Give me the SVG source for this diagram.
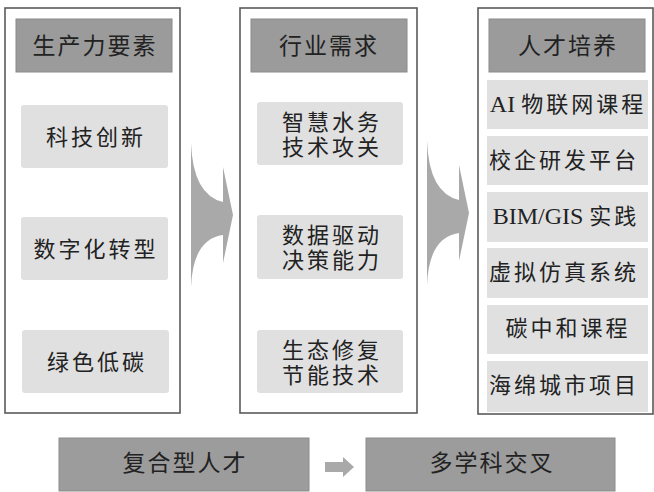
<svg xmlns="http://www.w3.org/2000/svg" width="654" height="492" viewBox="0 0 654 492">
<defs>
<style>
.panel{fill:#ffffff;stroke:#5a5a5a;stroke-width:1.6}
.head{fill:#9b9b9b;stroke:#8a8a8a;stroke-width:1}
.item{fill:#e0e0e1;stroke:none}
.bot{fill:#9c9c9c;stroke:#8c8c8c;stroke-width:1}
.chev{fill:#a9a9a9}
text{font-family:"Liberation Serif","Noto Sans CJK SC",serif;fill:#222;text-anchor:middle;dominant-baseline:central}
.ht{font-size:23px;letter-spacing:2px}
.it{font-size:22px;letter-spacing:3px}
.it3{font-size:22px;letter-spacing:3px}
.lat{font-size:24px;letter-spacing:0}
.bt{font-size:23px;letter-spacing:2px}
</style>
<path id="chevron" d="M0,0 Q2,52 32,59 L32,24 L42,72 L32,120 L32,92 Q2,96 0,144 Z"/>
</defs>
<rect width="654" height="492" fill="#ffffff"/>

<g id="panel-factors">
<rect class="panel" x="5" y="8" width="175" height="405"/>
<rect class="head" x="16" y="19" width="156" height="53"/>
<text class="ht" x="95" y="46">生产力要素</text>
</g>
<g id="node-tech">
<rect class="item" x="21" y="105" width="147" height="63" rx="3"/>
<text class="it" x="96" y="137">科技创新</text>
</g>
<g id="node-digital">
<rect class="item" x="21" y="217" width="147" height="63" rx="3"/>
<text class="it" x="96" y="249">数字化转型</text>
</g>
<g id="node-green">
<rect class="item" x="22" y="330" width="147" height="63" rx="3"/>
<text class="it" x="97" y="362">绿色低碳</text>
</g>

<g id="panel-demand">
<rect class="panel" x="240" y="8" width="177" height="405"/>
<rect class="head" x="251" y="19" width="156" height="53"/>
<text class="ht" x="329" y="46">行业需求</text>
</g>
<g id="node-water">
<rect class="item" x="257" y="102" width="146" height="63" rx="3"/>
<text class="it" x="332" y="122">智慧水务</text>
<text class="it" x="332" y="147">技术攻关</text>
</g>
<g id="node-data">
<rect class="item" x="257" y="215" width="146" height="64" rx="3"/>
<text class="it" x="332" y="235">数据驱动</text>
<text class="it" x="332" y="260">决策能力</text>
</g>
<g id="node-eco">
<rect class="item" x="257" y="330" width="146" height="63" rx="3"/>
<text class="it" x="332" y="350">生态修复</text>
<text class="it" x="332" y="375">节能技术</text>
</g>

<g id="panel-talent">
<rect class="panel" x="478" y="8" width="175" height="406"/>
<rect class="head" x="489" y="19" width="156" height="53"/>
<text class="ht" x="568" y="46">人才培养</text>
</g>
<g id="node-ai">
<rect class="item" x="487" y="80" width="161" height="49"/>
<text class="it3" x="568" y="104"><tspan class="lat">AI </tspan>物联网课程</text>
</g>
<g id="node-platform">
<rect class="item" x="487" y="136" width="161" height="49"/>
<text class="it3" x="564" y="160">校企研发平台</text>
</g>
<g id="node-bim">
<rect class="item" x="487" y="192" width="161" height="50"/>
<text class="it3" x="566" y="216"><tspan class="lat">BIM/GIS </tspan>实践</text>
</g>
<g id="node-sim">
<rect class="item" x="487" y="248" width="161" height="50"/>
<text class="it3" x="564" y="272">虚拟仿真系统</text>
</g>
<g id="node-carbon">
<rect class="item" x="487" y="305" width="161" height="49"/>
<text class="it3" x="568" y="328">碳中和课程</text>
</g>
<g id="node-sponge">
<rect class="item" x="487" y="361" width="161" height="51"/>
<text class="it3" x="564" y="385">海绵城市项目</text>
</g>

<g id="node-composite">
<rect class="bot" x="59" y="438" width="250" height="53"/>
<text class="bt" x="185" y="463">复合型人才</text>
</g>
<g id="node-interdisciplinary">
<rect class="bot" x="366" y="438" width="249" height="53"/>
<text class="bt" x="492" y="463">多学科交叉</text>
</g>

<g id="connectors">
<use href="#chevron" class="chev" transform="translate(191,143)"/>
<use href="#chevron" class="chev" transform="translate(427,141)"/>
<path class="chev" fill="#9a9a9a" d="M325,462 L343,462 L343,457 L354,467 L343,477 L343,472 L325,472 Z"/>
</g>
</svg>
